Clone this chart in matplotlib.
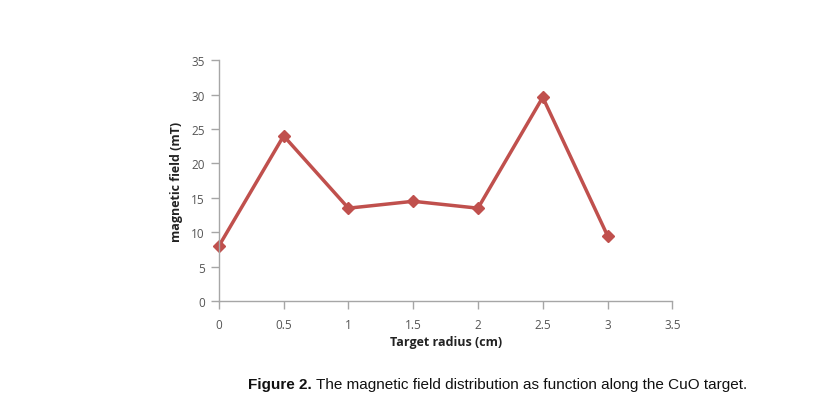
import matplotlib
matplotlib.use("Agg")
import matplotlib.pyplot as plt

radius = [0, 0.5, 1, 1.5, 2, 2.5, 3]
field = [8, 24, 13.5, 14.5, 13.5, 29.6, 9.5]
x_ticks = [0, 0.5, 1, 1.5, 2, 2.5, 3, 3.5]
x_labels = ["0", "0.5", "1", "1.5", "2", "2.5", "3", "3.5"]
y_ticks = [0, 5, 10, 15, 20, 25, 30, 35]

plt.rcParams["font.family"] = ["Open Sans", "DejaVu Sans"]

fig = plt.figure(figsize=(8.29, 4.10), dpi=100)
ax = fig.add_axes([0.264, 0.263, 0.547, 0.588])

ax.plot(radius, field, color="#C0504D", lw=2.5, marker="D", ms=6.5,
        markerfacecolor="#C0504D", markeredgecolor="#C0504D", clip_on=False)

ax.set_xlim(0, 3.5)
ax.set_ylim(0, 35)
ax.set_xticks(x_ticks)
ax.set_xticklabels(x_labels)
ax.set_yticks(y_ticks)

for side in ["top", "right"]:
    ax.spines[side].set_visible(False)
for side in ["left", "bottom"]:
    ax.spines[side].set_color("#A6A6A6")
    ax.spines[side].set_linewidth(1.0)
ax.tick_params(axis="both", direction="out", length=6, width=1, color="#A6A6A6",
               labelcolor="#555555", labelsize=8.5)
ax.tick_params(axis="y", pad=4)
ax.tick_params(axis="x", pad=6)

ax.set_xlabel("Target radius (cm)", fontsize=9, fontweight="bold", color="#222222", labelpad=3)
ax.set_ylabel("magnetic field (mT)", fontsize=9, fontweight="bold", color="#222222", labelpad=6)

# caption: bold prefix + regular text
fig.canvas.draw()
renderer = fig.canvas.get_renderer()
cap_y = 1 - 385 / 410
t1 = fig.text(248 / 829, cap_y, "Figure 2.", fontsize=11, fontweight="bold",
              color="#111111", va="center", family=["Liberation Sans"])
bb = t1.get_window_extent(renderer=renderer)
x2 = (bb.x1 + 4) / fig.bbox.width
fig.text(x2, cap_y, "The magnetic field distribution as function along the CuO target.",
         fontsize=11, color="#111111", va="center", family=["Liberation Sans"])

fig.savefig("out.png", dpi=100)
